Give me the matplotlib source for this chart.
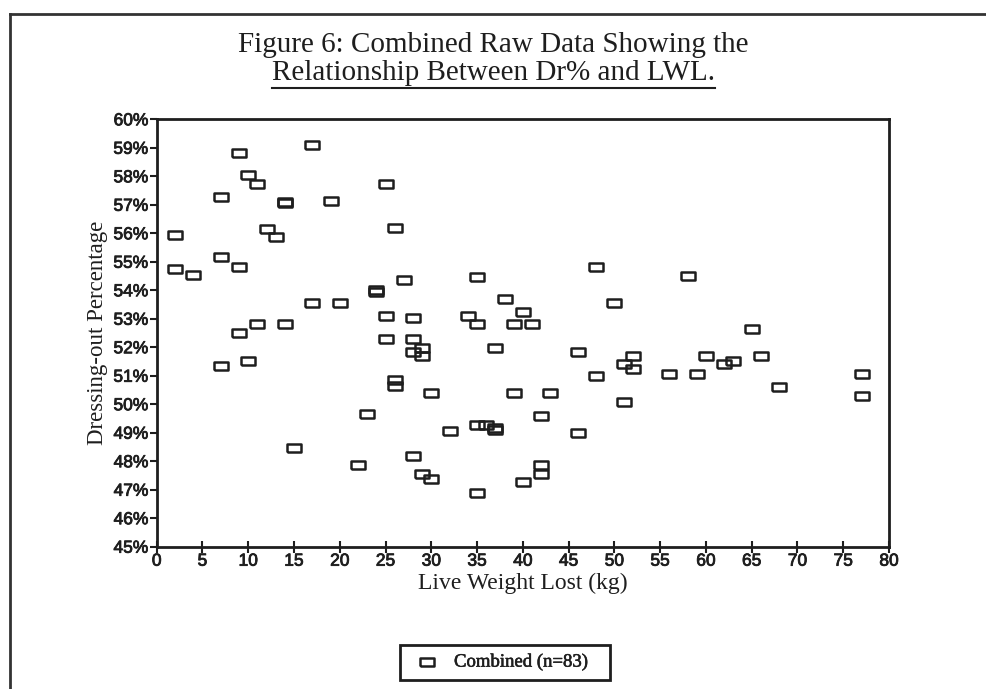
import matplotlib
matplotlib.use("Agg")
import matplotlib.pyplot as plt
from matplotlib.patches import Rectangle
from matplotlib.lines import Line2D
import matplotlib.patheffects as pe

# Live weight lost (kg)
lwl = [2, 2, 4, 7, 7, 7, 9, 9, 9, 10, 10, 11, 11, 12, 13, 14, 14, 14, 15, 17,
       17, 19, 20, 22, 23, 24, 24, 25, 25, 25, 26, 26, 26, 27, 28, 28, 28, 28, 29, 29,
       29, 30, 30, 32, 34, 35, 35, 35, 35, 36, 37, 37, 37, 38, 39, 39, 40, 40, 41, 42,
       42, 42, 43, 46, 46, 48, 48, 50, 51, 51, 52, 52, 56, 58, 59, 60, 62, 63, 65, 66,
       68, 77, 77]
# Dressing-out percentage (%)
dr = [55.93, 54.74, 54.54, 57.26, 55.16, 51.33, 58.81, 54.81, 52.5, 58.03, 51.5, 57.72, 52.82, 56.14, 55.87, 57.1, 57.05, 52.82, 48.46, 59.09,
      53.55, 57.12, 53.55, 47.87, 49.65, 54.0, 53.95, 57.74, 53.08, 52.29, 56.2, 50.85, 50.64, 54.35, 53.01, 52.29, 51.85, 48.2, 51.97, 51.71,
      47.55, 50.38, 47.37, 49.06, 53.08, 54.48, 52.82, 49.27, 46.9, 49.27, 51.97, 49.18, 49.1, 53.69, 52.82, 50.38, 53.25, 47.28, 52.82, 49.59,
      47.87, 47.55, 50.38, 51.83, 49.0, 54.83, 50.99, 53.57, 51.42, 50.07, 51.71, 51.22, 51.06, 54.5, 51.06, 51.71, 51.42, 51.5, 52.64, 51.71,
      50.62, 51.06, 50.29]

x_ticks = list(range(0, 81, 5))
y_ticks = list(range(45, 61))
y_tick_labels = [f"{v}%" for v in y_ticks]

title_line1 = "Figure 6: Combined Raw Data Showing the"
title_line2 = "Relationship Between Dr% and LWL."
x_label = "Live Weight Lost (kg)"
y_label = "Dressing-out Percentage"
legend_label = "Combined (n=83)"

W, H = 987, 689
fig = plt.figure(figsize=(W / 100, H / 100), dpi=100)
fig.patch.set_facecolor("white")

ink = "#1e1e1e"
serif = ["Liberation Serif", "DejaVu Serif"]
tickfont = ["Liberation Sans Narrow", "Liberation Sans", "DejaVu Sans"]
heavy = [pe.withStroke(linewidth=0.6, foreground=ink)]

def fx(px):
    return px / W

def fy(py):
    return 1 - py / H

# outer frame lines (top and left)
fig.add_artist(Line2D([fx(10), 1.0], [fy(14), fy(14)], color="#333333", lw=2))
fig.add_artist(Line2D([fx(10), fx(10)], [fy(14), 0.0], color="#333333", lw=2))

ax = fig.add_axes([fx(156.7), fy(546.7), fx(889) - fx(156.7), fy(119.3) - fy(546.7)])

rect = [(-1.6, -1), (1.6, -1), (1.6, 1), (-1.6, 1), (-1.6, -1)]
ax.plot(lwl, dr, linestyle="none", marker=rect, markersize=10, markerfacecolor="none",
        markeredgecolor=ink, markeredgewidth=1.8)

ax.set_xlim(0, 80)
ax.set_ylim(45, 60)
ax.set_xticks(x_ticks)
ax.set_xticklabels([str(v) for v in x_ticks], family=tickfont, fontsize=12.5, color=ink)
ax.set_yticks(y_ticks)
ax.set_yticklabels(y_tick_labels, family=tickfont, fontsize=12.5, color=ink)
for lbl in ax.get_xticklabels() + ax.get_yticklabels():
    lbl.set_path_effects(heavy)
ax.tick_params(axis="x", direction="inout", length=8, width=1.5, pad=1, colors=ink)
ax.tick_params(axis="y", direction="out", length=5, width=1.5, pad=1, colors=ink)
for s in ax.spines.values():
    s.set_linewidth(2)
    s.set_color(ink)

ax.set_xlabel(x_label, family=serif, fontsize=17, labelpad=3, color=ink)
ax.set_ylabel(y_label, family=serif, fontsize=16.5, labelpad=4, color=ink)

# title
fig.text(0.5, fy(45), title_line1, ha="center", va="center", family=serif, fontsize=21, color=ink)
t2 = fig.text(0.5, fy(73), title_line2, ha="center", va="center", family=serif, fontsize=21, color=ink)
fig.canvas.draw()
bb = t2.get_window_extent().transformed(fig.transFigure.inverted())
fig.add_artist(Line2D([bb.x0, bb.x1], [fy(88), fy(88)], color=ink, lw=1.5))

# legend box
fig.add_artist(Rectangle((fx(400), fy(680)), fx(610) - fx(400), fy(645) - fy(680),
                         fill=False, edgecolor=ink, lw=2, transform=fig.transFigure))
fig.add_artist(Line2D([fx(427)], [fy(662)], linestyle="none", marker=rect, markersize=10,
                      markerfacecolor="none", markeredgecolor=ink, markeredgewidth=1.8))
fig.text(fx(454), fy(662), legend_label, ha="left", va="center", family=serif, fontsize=13.5,
         color=ink, path_effects=[pe.withStroke(linewidth=0.4, foreground=ink)])

fig.savefig("out.png", dpi=100)
